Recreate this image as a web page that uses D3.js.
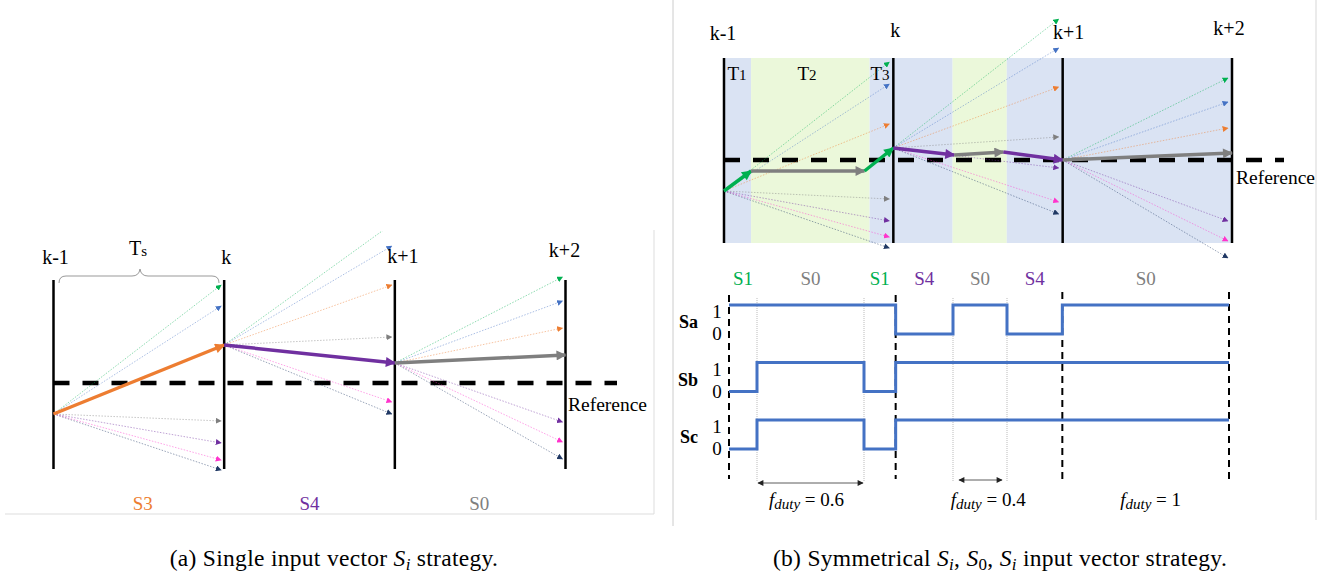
<!DOCTYPE html>
<html>
<head>
<meta charset="utf-8">
<script src="https://cdn.jsdelivr.net/npm/d3@7"></script>
<style>
  body { margin: 0; background: #fff; }
  svg { display: block; }
  text { font-family: "Liberation Serif", serif; }
</style>
</head>
<body>
<svg id="chart" width="1323" height="574"></svg>
<script>
// candidate vectors, in the order they are stored below
var vectorNames = ["S1", "S2", "S3", "S0", "S4", "S5", "S6"];
var vectorColors = ["#00b050", "#4472c4", "#ed7d31", "#7f7f7f", "#7030a0", "#ff33cc", "#203864"];

// (a) single vector per period
var samplesA = ["k-1", "k", "k+1", "k+2"];
var trajA = [-3.1, 3.8, 2.0, 2.8];          // state at each sample
var chosenA = ["S3", "S4", "S0"];
var candA = [                                // predicted end state per vector, null = chosen
  [9.8, 7.7, null, -3.8, -6.0, -7.7, -8.7],
  [15.9, 13.7, 9.8, 4.6, null, -1.9, -3.1],
  [10.6, 8.2, 5.5, null, -3.9, -5.9, -7.6]
];

// (b) symmetrical Si, S0, Si
var samplesB = ["k-1", "k", "k+1", "k+2"];
var trajTimeB = [0, 0.16, 0.83, 1, 1.36, 1.65, 2, 3];
var trajValB = [-3.1, -1.1, -1.1, 1.2, 0.5, 0.8, 0, 0.7];
var trajVecB = ["S1", "S0", "S1", "S4", "S0", "S4", "S0"];
var candB = [
  [9.8, 7.6, 3.6, -3.9, -6.1, -7.7, -8.8],
  [14.1, 11.2, 7.3, 2.3, -0.8, -4.2, -5.4],
  [8.2, 5.8, 3.2, null, -6.1, -8.1, -9.8]
];
var shadeBounds = [0, 0.16, 0.86, 1, 1.35, 1.67, 2, 3];
var shadeZero = [false, true, false, false, true, false, false];
var shadeLabels = ["T1", "T2", "T3"];

// switching signals
var switchTimes = [0, 0.168, 0.81, 1, 1.344, 1.668, 2, 3];
var switchStates = ["S1", "S0", "S1", "S4", "S0", "S4", "S0"];
var signalNames = ["Sa", "Sb", "Sc"];
var Sa = [1, 1, 1, 0, 1, 0, 1];
var Sb = [0, 1, 0, 1, 1, 1, 1];
var Sc = [0, 1, 0, 1, 1, 1, 1];
var dutyValues = ["0.6", "0.4", "1"];
var dutyCenters = [0.465, 1.555, 2.53];
var dutySpans = [[0.168, 0.81], [1.374, 1.644]];

var svg = d3.select("#chart");
var defs = svg.append("defs");

var colorOf = function (name) {
  return vectorColors[vectorNames.indexOf(name)];
};

vectorColors.forEach(function (c, i) {
  defs.append("marker").attr("id", "big" + i)
    .attr("viewBox", "0 0 10 10").attr("refX", 9).attr("refY", 5)
    .attr("markerWidth", 13).attr("markerHeight", 10)
    .attr("markerUnits", "userSpaceOnUse").attr("orient", "auto")
    .append("path").attr("d", "M0,0L10,5L0,10z").attr("fill", c);
  defs.append("marker").attr("id", "small" + i)
    .attr("viewBox", "0 0 10 10").attr("refX", 9).attr("refY", 5)
    .attr("markerWidth", 6).attr("markerHeight", 6)
    .attr("markerUnits", "userSpaceOnUse").attr("orient", "auto")
    .append("path").attr("d", "M0,0L10,5L0,10z").attr("fill", c);
});
defs.append("marker").attr("id", "dimEnd")
  .attr("viewBox", "0 0 10 10").attr("refX", 9).attr("refY", 5)
  .attr("markerWidth", 7).attr("markerHeight", 6)
  .attr("markerUnits", "userSpaceOnUse").attr("orient", "auto-start-reverse")
  .append("path").attr("d", "M0,0L10,5L0,10z").attr("fill", "#222");

defs.append("clipPath").attr("id", "clipA")
  .append("rect").attr("x", 0).attr("y", 231).attr("width", 654).attr("height", 283);

// frames
svg.append("path").attr("d", "M5,514H654V230").attr("fill", "none")
  .attr("stroke", "#ddd").attr("stroke-width", 1);
svg.append("line").attr("x1", 673).attr("x2", 673).attr("y1", 0).attr("y2", 526)
  .attr("stroke", "#ccc").attr("stroke-width", 1);
svg.append("line").attr("x1", 1316).attr("x2", 1316).attr("y1", 0).attr("y2", 520)
  .attr("stroke", "#e4e4e4").attr("stroke-width", 1.5);

function drawFan(g, x, y, t0, v0, values, tipGap) {
  values.forEach(function (v, i) {
    if (v === null) return;
    g.append("line")
      .attr("x1", x(t0)).attr("y1", y(v0))
      .attr("x2", x(t0 + 1) - tipGap).attr("y2", y(v))
      .attr("stroke", vectorColors[i]).attr("stroke-width", 1)
      .attr("stroke-opacity", 0.45).attr("stroke-dasharray", "1.5 1.5")
      .attr("marker-end", "url(#small" + i + ")");
  });
}

function thickArrow(g, x1, y1, x2, y2, name) {
  var i = vectorNames.indexOf(name);
  g.append("line")
    .attr("x1", x1).attr("y1", y1).attr("x2", x2).attr("y2", y2)
    .attr("stroke", vectorColors[i]).attr("stroke-width", 3.5)
    .attr("marker-end", "url(#big" + i + ")");
}

// ---------- panel (a) ----------
var xA = d3.scaleLinear().domain([0, 3]).range([53.5, 565.5]);
var yA = d3.scaleLinear().domain([-10, 10]).range([483, 283]);
var gA = svg.append("g").attr("clip-path", "url(#clipA)");

gA.selectAll(".kline").data(samplesA).enter().append("line")
  .attr("x1", function (d, i) { return xA(i); })
  .attr("x2", function (d, i) { return xA(i); })
  .attr("y1", 280).attr("y2", 469)
  .attr("stroke", "#000").attr("stroke-width", 2.5);

gA.append("line").attr("x1", xA(0)).attr("x2", 617)
  .attr("y1", yA(0)).attr("y2", yA(0))
  .attr("stroke", "#000").attr("stroke-width", 4.5).attr("stroke-dasharray", "16 13");

candA.forEach(function (vals, s) {
  drawFan(gA, xA, yA, s, trajA[s], vals, 3);
});
chosenA.forEach(function (name, s) {
  thickArrow(gA, xA(s), yA(trajA[s]), xA(s + 1), yA(trajA[s + 1]), name);
});

svg.selectAll(".klabA").data(samplesA).enter().append("text")
  .attr("x", function (d, i) { return xA(i) + [2, 2, 8, -1][i]; })
  .attr("y", function (d, i) { return [264, 264, 263, 257][i]; })
  .attr("text-anchor", "middle").attr("font-size", 20).text(function (d) { return d; });

// brace for Ts
svg.append("path")
  .attr("d", "M59,283 Q59,276 66,276 L132,276 Q139,276 140,269 Q141,276 148,276 L212,276 Q219,276 219,283")
  .attr("fill", "none").attr("stroke", "#999").attr("stroke-width", 1);
svg.append("text").attr("x", 138).attr("y", 255).attr("text-anchor", "middle").attr("font-size", 20)
  .html('T<tspan font-size="15" dy="1">s</tspan>');

svg.append("text").attr("x", 568).attr("y", 411).attr("font-size", 19.5).text("Reference");

svg.selectAll(".stA").data(chosenA).enter().append("text")
  .attr("x", function (d, i) { return (xA(i) + xA(i + 1)) / 2 + [4, 0, -1][i]; })
  .attr("y", 510).attr("text-anchor", "middle").attr("font-size", 19)
  .attr("fill", function (d) { return colorOf(d); })
  .text(function (d) { return d; });

// ---------- panel (b) ----------
var xB = d3.scaleLinear().domain([0, 3]).range([724, 1232]);
var yB = d3.scaleLinear().domain([-10, 10]).range([260, 60]);
var gB = svg.append("g");

gB.selectAll(".shade").data(shadeZero).enter().append("rect")
  .attr("x", function (d, i) { return xB(shadeBounds[i]); })
  .attr("width", function (d, i) { return xB(shadeBounds[i + 1]) - xB(shadeBounds[i]); })
  .attr("y", 58).attr("height", 185)
  .attr("fill", function (d) { return d ? "#ebf8da" : "#dae3f3"; });

gB.selectAll(".tlab").data(shadeLabels).enter().append("text")
  .attr("x", function (d, i) { return [737, 807, 880][i]; })
  .attr("y", 80).attr("text-anchor", "middle").attr("font-size", 19)
  .html(function (d) { return d[0] + '<tspan font-size="15">' + d[1] + '</tspan>'; });

gB.selectAll(".kline").data(samplesB).enter().append("line")
  .attr("x1", function (d, i) { return xB(i); })
  .attr("x2", function (d, i) { return xB(i); })
  .attr("y1", 58).attr("y2", 243)
  .attr("stroke", "#000").attr("stroke-width", 2.5);

gB.append("line").attr("x1", xB(0)).attr("x2", 1284)
  .attr("y1", yB(0)).attr("y2", yB(0))
  .attr("stroke", "#000").attr("stroke-width", 4.5).attr("stroke-dasharray", "16 13");

candB.forEach(function (vals, s) {
  var v0 = trajValB[trajTimeB.indexOf(s)];
  drawFan(gB, xB, yB, s, v0, vals, 4);
});
trajVecB.forEach(function (name, i) {
  thickArrow(gB, xB(trajTimeB[i]), yB(trajValB[i]), xB(trajTimeB[i + 1]), yB(trajValB[i + 1]), name);
});

svg.selectAll(".klabB").data(samplesB).enter().append("text")
  .attr("x", function (d, i) { return xB(i) + [-1, 2, 6, -3][i]; })
  .attr("y", function (d, i) { return [40, 37, 39, 35][i]; })
  .attr("text-anchor", "middle").attr("font-size", 20).text(function (d) { return d; });

svg.append("text").attr("x", 1236).attr("y", 184).attr("font-size", 19.5).text("Reference");

// ---------- switching signals ----------
var xW = d3.scaleLinear().domain([0, 3]).range([729, 1229]);
var yW = d3.scalePoint().domain(signalNames).range([334, 449]);
var lv = d3.scaleLinear().domain([0, 1]).range([0, -29]);
var signals = [Sa, Sb, Sc];
var gW = svg.append("g");

gW.selectAll(".sw").data(switchTimes.slice(1, -1).filter(function (t) { return t % 1 !== 0; }))
  .enter().append("line")
  .attr("x1", function (d) { return xW(d); }).attr("x2", function (d) { return xW(d); })
  .attr("y1", 298).attr("y2", 482)
  .attr("stroke", "#aaa").attr("stroke-width", 0.8).attr("stroke-dasharray", "1 1");

gW.selectAll(".smp").data(samplesB).enter().append("line")
  .attr("x1", function (d, i) { return xW(i); }).attr("x2", function (d, i) { return xW(i); })
  .attr("y1", function (d, i) { return i < 2 ? 295 : 292; }).attr("y2", 479)
  .attr("stroke", "#000").attr("stroke-width", 2).attr("stroke-dasharray", "7 5");

var stepLine = d3.line()
  .x(function (d) { return xW(d[0]); })
  .y(function (d) { return d[1]; })
  .curve(d3.curveStepAfter);

signals.forEach(function (sig, k) {
  var base = yW(signalNames[k]);
  var pts = switchTimes.map(function (t, i) {
    var level = sig[Math.min(i, sig.length - 1)];
    return [t, base + lv(level)];
  });
  gW.append("path").attr("d", stepLine(pts))
    .attr("fill", "none").attr("stroke", "#4472c4").attr("stroke-width", 3);
  gW.append("text").attr("x", 698).attr("y", base - 6).attr("text-anchor", "end")
    .attr("font-size", 18).attr("font-weight", "bold").text(signalNames[k]);
  gW.append("text").attr("x", 717).attr("y", base + lv(1) + 13).attr("text-anchor", "middle")
    .attr("font-size", 19).text("1");
  gW.append("text").attr("x", 717).attr("y", base + 6).attr("text-anchor", "middle")
    .attr("font-size", 19).text("0");
});

gW.selectAll(".st").data(switchStates).enter().append("text")
  .attr("x", function (d, i) { return xW((switchTimes[i] + switchTimes[i + 1]) / 2); })
  .attr("y", 285).attr("text-anchor", "middle").attr("font-size", 19)
  .attr("fill", function (d) { return colorOf(d); })
  .text(function (d) { return d; });

gW.selectAll(".dim").data(dutySpans).enter().append("line")
  .attr("x1", function (d) { return xW(d[0]) + 1; })
  .attr("x2", function (d) { return xW(d[1]) - 1; })
  .attr("y1", function (d, i) { return [483, 480][i]; })
  .attr("y2", function (d, i) { return [483, 480][i]; })
  .attr("stroke", "#333").attr("stroke-width", 0.8)
  .attr("marker-start", "url(#dimEnd)").attr("marker-end", "url(#dimEnd)");

gW.selectAll(".duty").data(dutyValues).enter().append("text")
  .attr("x", function (d, i) { return xW(dutyCenters[i]); })
  .attr("y", 506).attr("text-anchor", "middle").attr("font-size", 19)
  .html(function (d) {
    return '<tspan font-style="italic">f</tspan><tspan font-style="italic" font-size="15" dy="3">duty</tspan>' +
      '<tspan dy="-3"> = ' + d + '</tspan>';
  });

// captions
svg.append("text").attr("x", 334).attr("y", 566).attr("text-anchor", "middle")
  .attr("font-size", 23.5).attr("letter-spacing", 0.3)
  .html('(a) Single input vector <tspan font-style="italic">S</tspan><tspan font-style="italic" font-size="17" dy="4">i</tspan><tspan dy="-4"> strategy.</tspan>');
svg.append("text").attr("x", 1000).attr("y", 566).attr("text-anchor", "middle")
  .attr("font-size", 23.5).attr("letter-spacing", 0.3)
  .html('(b) Symmetrical <tspan font-style="italic">S</tspan><tspan font-style="italic" font-size="17" dy="4">i</tspan>' +
    '<tspan dy="-4">, </tspan><tspan font-style="italic">S</tspan><tspan font-size="17" dy="4">0</tspan>' +
    '<tspan dy="-4">, </tspan><tspan font-style="italic">S</tspan><tspan font-style="italic" font-size="17" dy="4">i</tspan>' +
    '<tspan dy="-4"> input vector strategy.</tspan>');
</script>
</body>
</html>
